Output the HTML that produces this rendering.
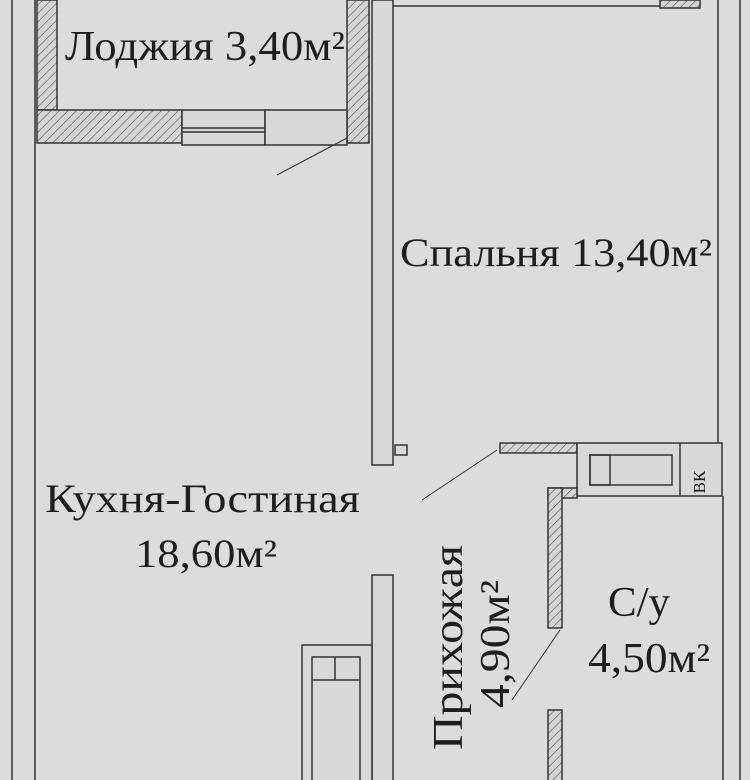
<!DOCTYPE html>
<html><head><meta charset="utf-8"><style>
html,body{margin:0;padding:0;background:#dcdcdc;}
svg{display:block}
text{font-family:"Liberation Serif","DejaVu Serif",serif;fill:#1e1e1e;}
</style></head><body>
<svg width="750" height="780" viewBox="0 0 750 780" xmlns="http://www.w3.org/2000/svg">
<defs>
<pattern id="h" width="6" height="6" patternUnits="userSpaceOnUse" patternTransform="rotate(45)">
<rect width="6" height="6" fill="#d4d4d4"/><line x1="0" y1="0" x2="0" y2="6" stroke="#555" stroke-width="1.2"/>
</pattern>
</defs>
<rect width="750" height="780" fill="#dcdcdc"/>
<g stroke="#333" stroke-width="1.5" fill="none">
<line x1="12" y1="0" x2="12" y2="780"/>
<line x1="35" y1="0" x2="35" y2="780"/>
<line x1="718" y1="0" x2="718" y2="443"/>
<line x1="723" y1="496" x2="723" y2="780"/>
<line x1="740" y1="0" x2="740" y2="780"/>
<line x1="392" y1="6" x2="700" y2="6"/>
<rect x="37" y="0" width="20" height="110" fill="url(#h)"/>
<rect x="347" y="0" width="22" height="143" fill="url(#h)"/>
<rect x="37" y="110" width="145" height="33" fill="url(#h)"/>
<rect x="182" y="110" width="83" height="35" fill="#d8d8d8"/>
<line x1="182" y1="128" x2="265" y2="128"/><line x1="182" y1="132" x2="265" y2="132"/>
<rect x="265" y="110" width="82" height="35" fill="#d8d8d8"/>
<line x1="347" y1="138" x2="277" y2="175" stroke-width="1"/>
<rect x="660" y="0" width="40" height="8" fill="url(#h)"/>
<rect x="372" y="0" width="21" height="465" fill="#d8d8d8"/>
<rect x="395" y="445" width="12" height="10" fill="#d8d8d8"/>
<rect x="372" y="575" width="21" height="210" fill="#d8d8d8"/>
<rect x="500" y="443" width="77" height="10" fill="url(#h)"/>
<rect x="577" y="443" width="145" height="53" fill="#d8d8d8"/>
<line x1="680" y1="443" x2="680" y2="496"/>
<rect x="590" y="455" width="82" height="30"/>
<rect x="590" y="455" width="20" height="30"/>
<rect x="548" y="488" width="29" height="10" fill="url(#h)"/>
<rect x="548" y="488" width="14" height="140" fill="url(#h)"/>
<rect x="548" y="710" width="14" height="75" fill="url(#h)"/>
<line x1="497" y1="450" x2="422" y2="500" stroke-width="1"/>
<line x1="560" y1="630" x2="512" y2="700" stroke-width="1"/>
<rect x="302" y="645" width="70" height="140" fill="#d8d8d8"/>
<rect x="312" y="657" width="48" height="130"/>
<line x1="312" y1="680" x2="360" y2="680"/>
<line x1="335" y1="657" x2="335" y2="680"/>
</g>
<text x="700" y="482" font-size="17" transform="rotate(-90 700 482)" text-anchor="middle" dy="5">ВК</text>
<text x="65" y="60" font-size="42" textLength="280" lengthAdjust="spacingAndGlyphs">Лоджия 3,40м²</text>
<text x="400" y="266" font-size="40" textLength="312" lengthAdjust="spacingAndGlyphs">Спальня 13,40м²</text>
<text x="45" y="512" font-size="40" textLength="315" lengthAdjust="spacingAndGlyphs">Кухня-Гостиная</text>
<text x="135" y="567" font-size="40" textLength="142" lengthAdjust="spacingAndGlyphs">18,60м²</text>
<text transform="translate(462 750) rotate(-90)" font-size="42" textLength="205" lengthAdjust="spacingAndGlyphs">Прихожая</text>
<text transform="translate(509 708) rotate(-90)" font-size="42" textLength="128" lengthAdjust="spacingAndGlyphs">4,90м²</text>
<text x="608" y="616" font-size="42" textLength="62" lengthAdjust="spacingAndGlyphs">С/у</text>
<text x="588" y="672" font-size="42" textLength="122" lengthAdjust="spacingAndGlyphs">4,50м²</text>
</svg>
</body></html>
